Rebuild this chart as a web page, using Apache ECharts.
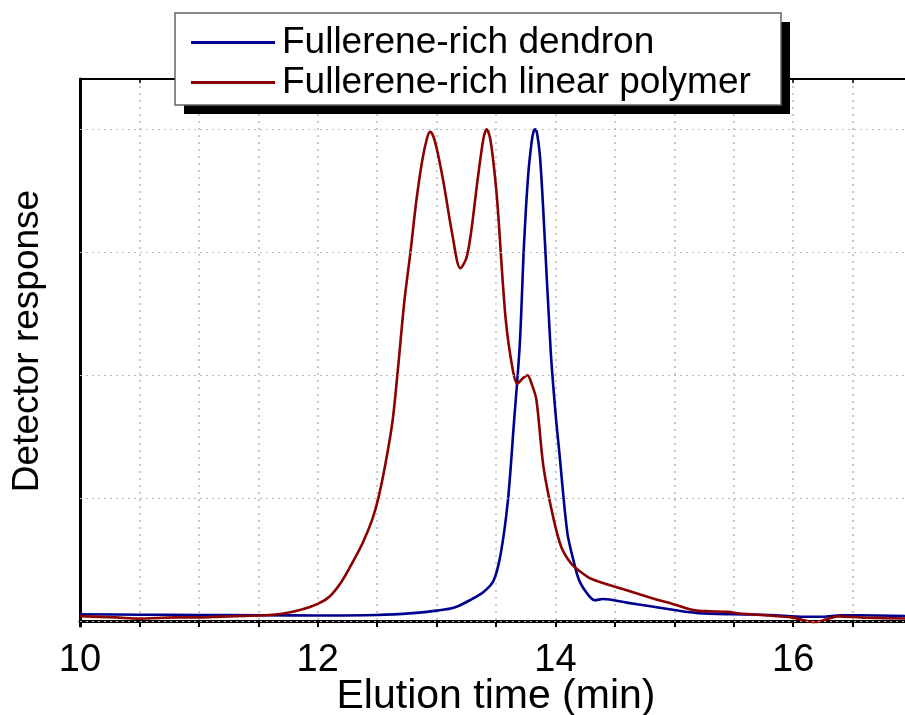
<!DOCTYPE html>
<html>
<head>
<meta charset="utf-8">
<script src="https://cdn.jsdelivr.net/npm/echarts@6/dist/echarts.min.js"></script>
<style>html,body{margin:0;padding:0;background:#fff;overflow:hidden}#c{width:905px;height:715px}</style>
</head>
<body>
<div id="c"></div>
<script>
const seriesNames = ['Fullerene-rich dendron', 'Fullerene-rich linear polymer'];
const xTitle = 'Elution time (min)';
const yTitle = 'Detector response';
const xTickLabels = [10, 12, 14, 16];
const yGridValues = [0, 1, 2, 3, 4];

const dendronTime = [10.0, 10.5, 11.0, 11.5, 12.0, 12.5, 12.8, 13.0, 13.15, 13.3, 13.4, 13.48, 13.54, 13.6, 13.65, 13.7, 13.735, 13.77, 13.8, 13.815, 13.83, 13.845, 13.87, 13.9, 13.96, 14.0, 14.03, 14.1, 14.15, 14.2, 14.27, 14.33, 14.4, 14.6, 14.8, 15.0, 15.2, 15.5, 15.8, 16.1, 16.25, 16.4, 16.7, 17.0];
const dendronResp = [0.055, 0.052, 0.05, 0.048, 0.046, 0.05, 0.065, 0.085, 0.11, 0.18, 0.24, 0.33, 0.55, 0.98, 1.6, 2.25, 3.05, 3.62, 3.9, 3.98, 4.0, 3.97, 3.78, 3.3, 2.2, 1.7, 1.4, 0.72, 0.5, 0.33, 0.22, 0.17, 0.18, 0.15, 0.12, 0.09, 0.065, 0.055, 0.05, 0.035, 0.035, 0.048, 0.045, 0.04];

const linearTime = [10.0, 10.3, 10.5, 10.8, 11.0, 11.3, 11.5, 11.7, 11.85, 12.0, 12.1, 12.2, 12.3, 12.38, 12.46, 12.51, 12.57, 12.63, 12.67, 12.73, 12.78, 12.83, 12.88, 12.92, 12.945, 12.97, 13.0, 13.06, 13.13, 13.2, 13.25, 13.29, 13.34, 13.38, 13.4, 13.42, 13.445, 13.47, 13.51, 13.58, 13.64, 13.68, 13.72, 13.765, 13.8, 13.84, 13.9, 13.98, 14.05, 14.13, 14.2, 14.3, 14.6, 14.8, 15.0, 15.17, 15.3, 15.45, 15.55, 15.8, 16.0, 16.18, 16.3, 16.38, 16.6, 17.0];
const linearResp = [0.04, 0.03, 0.02, 0.03, 0.03, 0.04, 0.045, 0.06, 0.09, 0.14, 0.2, 0.32, 0.49, 0.64, 0.83, 1.0, 1.28, 1.63, 2.0, 2.61, 3.0, 3.42, 3.75, 3.93, 3.98, 3.95, 3.85, 3.56, 3.16, 2.87, 2.95, 3.16, 3.55, 3.84, 3.95, 4.0, 3.95, 3.8, 3.42, 2.47, 2.05, 1.93, 1.97, 2.0, 1.93, 1.8, 1.25, 0.85, 0.6, 0.47, 0.41, 0.345, 0.25, 0.19, 0.135, 0.087, 0.08, 0.075, 0.062, 0.045, 0.028, -0.008, 0.02, 0.038, 0.028, 0.02];

const zip = (a, b) => a.map((v, i) => [v, b[i]]);
const FONT = '"Liberation Sans", Arial, sans-serif';

const chart = echarts.init(document.getElementById('c'), null, {renderer: 'canvas', width: 905, height: 715});
chart.setOption({
  animation: false,
  backgroundColor: '#fff',
  grid: {left: 80, top: 79, bottom: 89, right: -7, containLabel: false, outerBoundsMode: 'none'},
  xAxis: [{
    type: 'value', min: 10, max: 17, interval: 0.5, position: 'bottom',
    name: xTitle, nameLocation: 'middle', nameGap: 50, nameMoveOverlap: false,
    nameTextStyle: {fontFamily: FONT, fontSize: 41, color: '#000'},
    axisLine: {lineStyle: {color: '#000', width: 3}},
    axisTick: {show: true, inside: false, length: 6, lineStyle: {color: '#000', width: 2}},
    axisLabel: {fontFamily: FONT, fontSize: 38, color: '#000', margin: 16,
      formatter: v => (xTickLabels.some(t => Math.abs(t - v) < 1e-6) ? String(v) : '')},
    splitLine: {show: true, lineStyle: {color: '#b8b8b8', width: 1.5, type: [2, 5]}}
  }, {
    type: 'value', min: 10, max: 17, interval: 0.5, position: 'top',
    axisLine: {lineStyle: {color: '#000', width: 2}},
    axisTick: {show: true, inside: true, length: 4, lineStyle: {color: '#000', width: 1.5}},
    axisLabel: {show: false},
    splitLine: {show: false}
  }],
  yAxis: {
    type: 'value', min: -0.04, max: 4.41,
    axisLine: {show: true, lineStyle: {color: '#000', width: 3}},
    axisTick: {show: false}, axisLabel: {show: false}, splitLine: {show: false}
  },
  legend: {
    show: true, orient: 'vertical', left: 186, top: 19,
    data: seriesNames, icon: 'rect', itemWidth: 84, itemHeight: 3, itemGap: 3,
    textStyle: {fontFamily: FONT, fontSize: 37, color: '#000', padding: [0, 0, 0, 2]},
    z: 20
  },
  graphic: [
    {type: 'rect', shape: {x: 184, y: 22, width: 606, height: 92}, style: {fill: '#000'}, z: 15, silent: true},
    {type: 'rect', shape: {x: 175, y: 13, width: 606, height: 92}, style: {fill: '#fff', stroke: '#666', lineWidth: 1.5}, z: 16, silent: true},
    {type: 'text', x: 28, y: 341, rotation: Math.PI / 2, z: 10,
      style: {text: yTitle, font: '37px ' + FONT, fill: '#000', align: 'center', verticalAlign: 'middle'}}
  ],
  series: [
    {type: 'line', name: 'grid', data: [], z: 1, silent: true,
      markLine: {silent: true, symbol: 'none', label: {show: false},
        lineStyle: {color: '#b8b8b8', width: 1, type: [2, 4]},
        data: yGridValues.map(v => ({yAxis: v}))}},
    {type: 'line', name: seriesNames[0], data: zip(dendronTime, dendronResp), showSymbol: false, symbol: 'none',
      smooth: 0.3, color: '#00008f', lineStyle: {color: '#00008f', width: 2.6}, z: 3},
    {type: 'line', name: seriesNames[1], data: zip(linearTime, linearResp), showSymbol: false, symbol: 'none',
      smooth: 0.3, color: '#8b0000', lineStyle: {color: '#8b0000', width: 2.6}, z: 4}
  ]
});
</script>
</body>
</html>
